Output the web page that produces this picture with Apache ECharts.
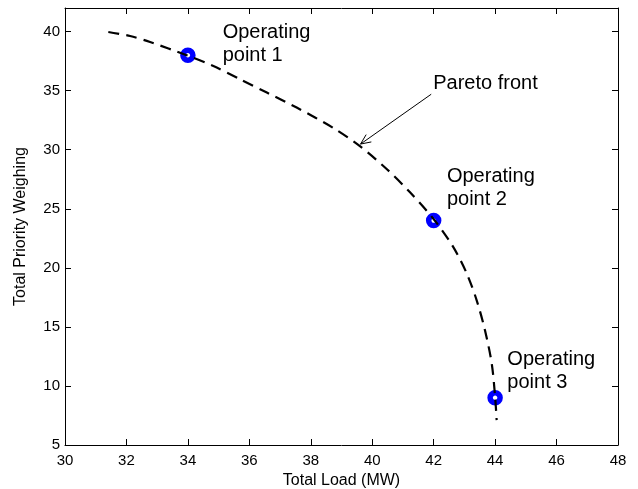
<!DOCTYPE html>
<html>
<head>
<meta charset="utf-8">
<script src="https://cdn.jsdelivr.net/npm/echarts@6/dist/echarts.min.js"></script>
<style>
  html, body { margin: 0; padding: 0; background: #fff; }
  #chart { width: 638px; height: 489px; }
</style>
</head>
<body>
<div id="chart"></div>
<script>
// Pareto front (dashed curve)
const frontLoad = [31.41, 32.12, 32.77, 33.96, 34.83, 35.70, 36.57, 37.54, 38.73, 39.60, 40.47, 41.23, 42.01, 42.64, 43.08, 43.40, 43.67, 43.89, 44.0, 44.05]
const frontWeight = [39.97, 39.63, 39.12, 38.0, 37.09, 35.97, 34.84, 33.57, 31.85, 30.3, 28.37, 26.39, 24.09, 21.75, 19.50, 17.25, 14.71, 11.90, 9.08, 7.11]

// operating points
const opNames = ['Operating\npoint 1', 'Operating\npoint 2', 'Operating\npoint 3']
const opLoad = [34, 42, 44]
const opWeight = [38, 24, 9]

// arrow "Pareto front": from (x0, y0) to (x1, y1) in data units
const arrowLabel = 'Pareto front'
const arrowFrom = [41.92, 34.7]
const arrowTo = [39.62, 30.48]

const xTicks = { min: 30, max: 48, interval: 2 }
const yTicks = { min: 5, max: 42, interval: 5 }

const FONT = 'Liberation Sans, Arial, Helvetica, sans-serif'
const chart = echarts.init(document.getElementById('chart'))

// label offsets for each operating point, relative to the marker
const labelOffsets = [[27, -11.5], [5.5, -33], [4.5, -27]]

const axisCommon = {
  type: 'value',
  axisLine: { show: true, onZero: false, lineStyle: { color: '#000', width: 1 } },
  axisTick: { show: true, inside: true, length: 6, lineStyle: { color: '#000', width: 1 } },
  splitLine: { show: false }
}

const option = {
  animation: false,
  backgroundColor: '#fff',
  grid: {
    left: 65, right: 20, top: 8, bottom: 44,
    containLabel: false,
    outerBoundsMode: 'none'
  },
  xAxis: [
    {
      ...axisCommon,
      ...xTicks,
      position: 'bottom',
      name: 'Total Load (MW)',
      nameLocation: 'middle',
      nameGap: 26,
      nameTextStyle: { fontFamily: FONT, fontSize: 16, color: '#000' },
      axisLabel: { fontFamily: FONT, fontSize: 15, color: '#000', margin: 8 }
    },
    {
      ...axisCommon,
      ...xTicks,
      position: 'top',
      axisLabel: { show: false }
    }
  ],
  yAxis: [
    {
      ...axisCommon,
      ...yTicks,
      position: 'left',
      name: 'Total Priority Weighing',
      nameLocation: 'middle',
      nameGap: 36,
      nameTextStyle: { fontFamily: FONT, fontSize: 16, color: '#000' },
      axisLabel: { fontFamily: FONT, fontSize: 15, color: '#000', margin: 5, showMaxLabel: false }
    },
    {
      ...axisCommon,
      ...yTicks,
      position: 'right',
      axisLabel: { show: false }
    }
  ],
  series: [
    {
      name: 'Operating points',
      type: 'scatter',
      z: 2,
      symbol: 'circle',
      symbolSize: 10,
      itemStyle: { color: '#fff', borderColor: '#0000ff', borderWidth: 5.5, opacity: 1 },
      data: opLoad.map((x, i) => ({
        value: [x, opWeight[i]],
        name: opNames[i],
        label: {
          show: true,
          position: 'right',
          distance: 0,
          offset: labelOffsets[i],
          formatter: opNames[i],
          fontFamily: FONT,
          fontSize: 20,
          lineHeight: 23,
          color: '#000'
        }
      }))
    },
    {
      name: 'Pareto front',
      type: 'line',
      z: 3,
      smooth: 0.3,
      showSymbol: false,
      lineStyle: { color: '#000', width: 2.2, type: [11, 7] },
      data: frontLoad.map((x, i) => [x, frontWeight[i]])
    },
    {
      name: 'arrow',
      type: 'custom',
      z: 4,
      silent: true,
      encode: { x: [0, 2], y: [1, 3] },
      data: [[arrowFrom[0], arrowFrom[1], arrowTo[0], arrowTo[1]]],
      renderItem: (params, api) => {
        const p0 = api.coord([api.value(0), api.value(1)])
        const p1 = api.coord([api.value(2), api.value(3)])
        const ang = Math.atan2(p0[1] - p1[1], p0[0] - p1[0])
        const headLen = 11
        const spread = 0.42
        const h1 = [p1[0] + headLen * Math.cos(ang + spread), p1[1] + headLen * Math.sin(ang + spread)]
        const h2 = [p1[0] + headLen * Math.cos(ang - spread), p1[1] + headLen * Math.sin(ang - spread)]
        return {
          type: 'group',
          children: [
            {
              type: 'line',
              shape: { x1: p0[0], y1: p0[1], x2: p1[0], y2: p1[1] },
              style: { stroke: '#000', lineWidth: 1 }
            },
            {
              type: 'polyline',
              shape: { points: [h1, p1, h2] },
              style: { stroke: '#000', lineWidth: 1, fill: null }
            },
            {
              type: 'text',
              x: p0[0] + 2,
              y: p0[1] - 11,
              style: {
                text: arrowLabel,
                fontFamily: FONT,
                fontSize: 20,
                fill: '#000',
                align: 'left',
                verticalAlign: 'middle'
              }
            }
          ]
        }
      }
    }
  ]
}

chart.setOption(option)
</script>
</body>
</html>
